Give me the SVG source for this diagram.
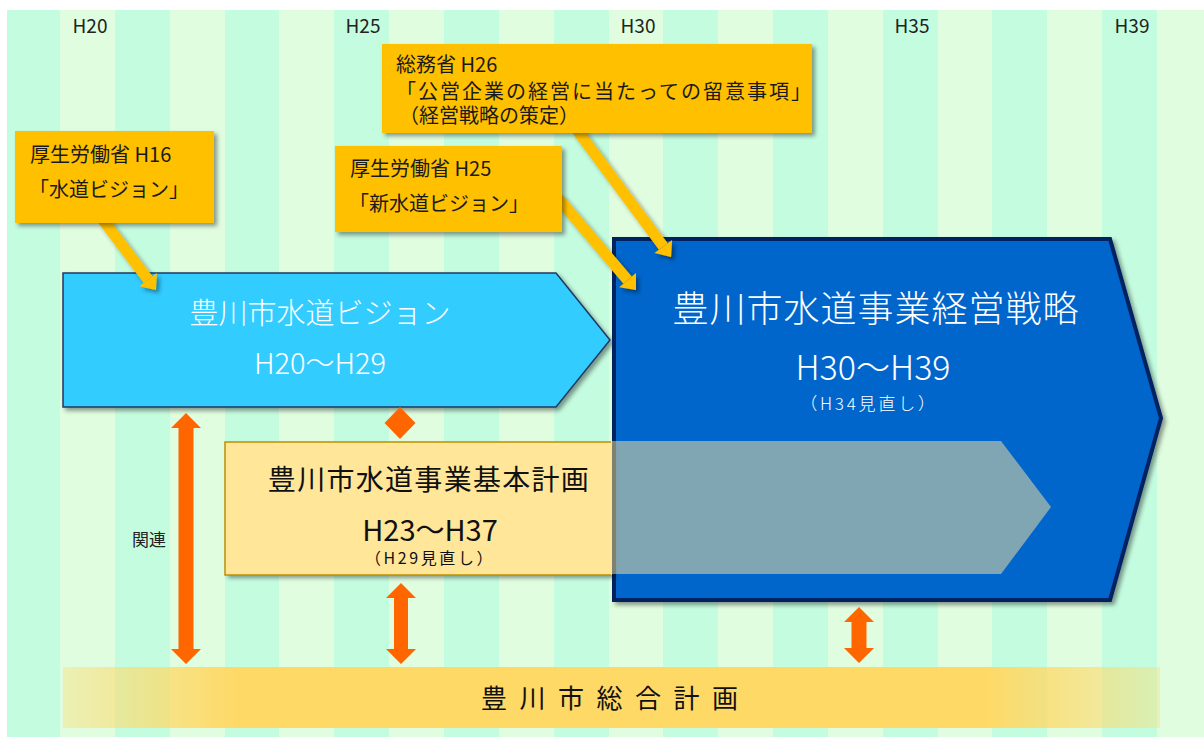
<svg xmlns="http://www.w3.org/2000/svg" width="1204" height="737" viewBox="0 0 1204 737">
<style>
text{font-family:"Noto Sans CJK JP","Noto Sans",sans-serif;}
.d{fill:#c4fce0;}
.yr{font-size:19px;fill:#222;text-anchor:middle;}
.co{fill:#ffc000;}
.cot{font-size:20px;fill:#1a1a1a;}
.wt{fill:#fff;text-anchor:middle;font-weight:300;}
.bk{fill:#111;text-anchor:middle;}
.ptr{stroke:#ffc000;stroke-width:11;fill:none;}
.dbl{fill:#ff6600;}
</style>
<defs>
<filter id="sh" x="-10%" y="-10%" width="125%" height="130%">
<feDropShadow dx="3" dy="3" stdDeviation="2" flood-color="#000" flood-opacity="0.4"/>
</filter>
<marker id="ah" markerUnits="userSpaceOnUse" markerWidth="30" markerHeight="30" refX="0" refY="0" orient="auto" overflow="visible">
<path d="M0,-11 L13,0 L0,11 z" fill="#ffc000"/>
</marker>
<linearGradient id="gp" x1="0" x2="1" y1="0" y2="0">
<stop offset="0" stop-color="#ffd966" stop-opacity="0.35"/>
<stop offset="0.16" stop-color="#ffd966" stop-opacity="1"/>
<stop offset="0.84" stop-color="#ffd966" stop-opacity="1"/>
<stop offset="1" stop-color="#ffd966" stop-opacity="0.35"/>
</linearGradient>
</defs>
<rect x="0" y="0" width="1204" height="737" fill="#fff"/>
<g id="background">
<rect x="7" y="10" width="1197" height="727" fill="#e0fde0"/>
<rect class="d" x="7" y="10" width="53" height="727"/>
<rect class="d" x="115" y="10" width="55" height="727"/>
<rect class="d" x="225" y="10" width="54" height="727"/>
<rect class="d" x="334" y="10" width="55" height="727"/>
<rect class="d" x="444" y="10" width="55" height="727"/>
<rect class="d" x="554" y="10" width="55" height="727"/>
<rect class="d" x="663" y="10" width="55" height="727"/>
<rect class="d" x="773" y="10" width="55" height="727"/>
<rect class="d" x="883" y="10" width="55" height="727"/>
<rect class="d" x="992" y="10" width="55" height="727"/>
<rect class="d" x="1102" y="10" width="55" height="727"/>
<text class="yr" x="90" y="33">H20</text>
<text class="yr" x="363" y="33">H25</text>
<text class="yr" x="638" y="33">H30</text>
<text class="yr" x="912" y="33">H35</text>
<text class="yr" x="1132" y="33">H39</text>
</g>
<g id="vision">
<polygon points="63,273 556,273 610,340 556,407 63,407" fill="#33ccff" stroke="#1f3864" stroke-width="1.5" filter="url(#sh)"/>
<text class="wt" x="320" y="324" font-size="29">豊川市水道ビジョン</text>
<text class="wt" x="320" y="374" font-size="29">H20～H29</text>
</g>
<g id="strategy">
<polygon points="614,239 1110,239 1161,418 1110,600 614,600" fill="#0066cc" stroke="#002060" stroke-width="4" filter="url(#sh)"/>
<text class="wt" x="876" y="322" font-size="36" letter-spacing="1">豊川市水道事業経営戦略</text>
<text class="wt" x="873" y="380" font-size="34">H30～H39</text>
<text class="wt" x="869" y="410" font-size="17" letter-spacing="2.8">（H34見直し）</text>
</g>
<g id="basic-plan">
<rect x="225" y="442" width="387" height="133" fill="#ffe699" filter="url(#sh)"/>
<path d="M611,442 H225 V575 H611" fill="none" stroke="#bf9000" stroke-width="1.5"/>
<polygon points="612,441 1001,441 1051,507 1001,574 612,574" fill="#ffe699" fill-opacity="0.5"/>
<text class="bk" x="429" y="490" font-size="28" letter-spacing="1.3">豊川市水道事業基本計画</text>
<text class="bk" x="430" y="541" font-size="29">H23～H37</text>
<text class="bk" x="430" y="564" font-size="16" letter-spacing="2.6">（H29見直し）</text>
</g>
<g id="general-plan">
<rect x="63" y="667" width="1097" height="61" fill="url(#gp)"/>
<text x="481" y="708" font-size="26" letter-spacing="12.5" fill="#111">豊川市総合計画</text>
</g>
<g id="connectors">
<g filter="url(#sh)">
<line class="ptr" x1="103" y1="220" x2="148.1" y2="279.6" marker-end="url(#ah)"/>
<line class="ptr" x1="558" y1="198" x2="627.6" y2="280.1" marker-end="url(#ah)"/>
<line class="ptr" x1="577" y1="130" x2="663.3" y2="246.5" marker-end="url(#ah)"/>
</g>
<polygon class="dbl" points="400,407 415.5,423 400,439 384.5,423"/>
<polygon class="dbl" points="186,413 201,428 193.5,428 193.5,649 201,649 186,664 171,649 178.5,649 178.5,428 171,428"/>
<polygon class="dbl" points="401,583 416,598 408,598 408,649 416,649 401,664 386,649 394,649 394,598 386,598"/>
<polygon class="dbl" points="859,607 874,622 866.5,622 866.5,648 874,648 859,663 844,648 851.5,648 851.5,622 844,622"/>
<text x="132" y="546" font-size="17" fill="#222">関連</text>
</g>
<g id="callout-h16">
<rect class="co" x="15" y="131" width="199" height="92" filter="url(#sh)"/>
<text class="cot" x="30" y="162">厚生労働省 H16</text>
<text class="cot" x="29" y="197">「水道ビジョン」</text>
</g>
<g id="callout-h25">
<rect class="co" x="335" y="146" width="227" height="86" filter="url(#sh)"/>
<text class="cot" x="350" y="176">厚生労働省 H25</text>
<text class="cot" x="349" y="211">「新水道ビジョン」</text>
</g>
<g id="callout-h26">
<rect class="co" x="382" y="44" width="430" height="89" filter="url(#sh)"/>
<text class="cot" x="396" y="72">総務省 H26</text>
<text class="cot" x="396" y="99" letter-spacing="2">「公営企業の経営に当たっての留意事項」</text>
<text class="cot" x="399" y="123">（経営戦略の策定）</text>
</g>
</svg>
